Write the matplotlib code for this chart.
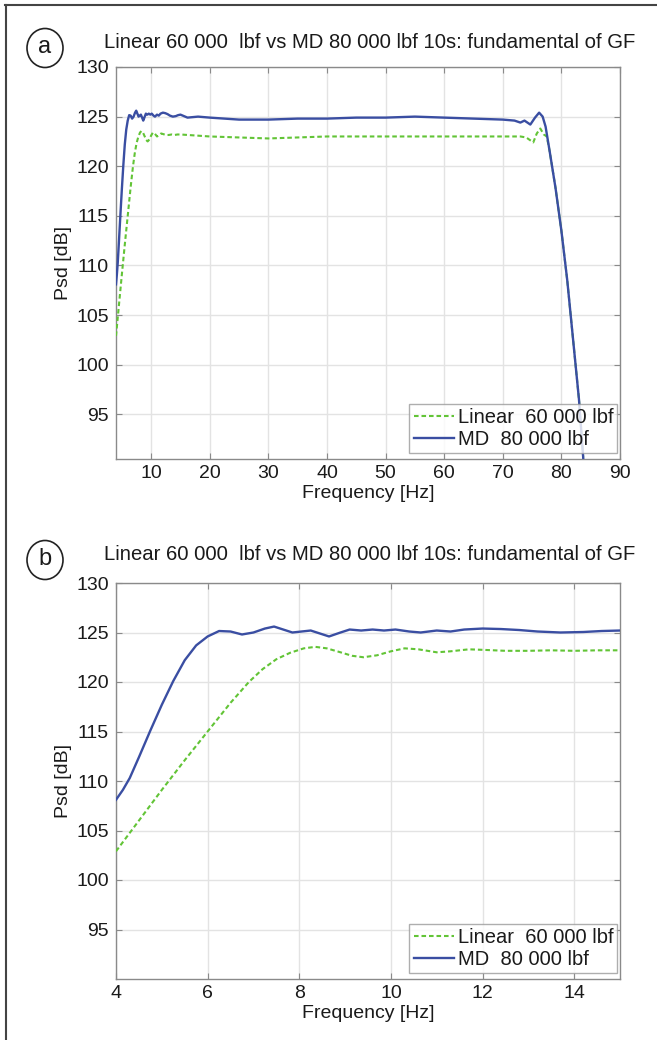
import matplotlib
matplotlib.use("Agg")
import matplotlib.pyplot as plt
from matplotlib.patches import Ellipse
from matplotlib.lines import Line2D

plt.rcParams['font.family'] = ['Liberation Sans', 'DejaVu Sans']

title = "Linear 60 000  lbf vs MD 80 000 lbf 10s: fundamental of GF"
label_lin = "Linear  60 000 lbf"
label_md = "MD  80 000 lbf"

md_f = [4.0, 4.15, 4.3, 4.5, 4.75, 5.0, 5.25, 5.5, 5.75, 6.0, 6.25, 6.5, 6.75, 7.0,
        7.25, 7.45, 7.65, 7.85, 8.05, 8.25, 8.45, 8.65, 8.9, 9.1, 9.35, 9.6, 9.85,
        10.1, 10.4, 10.65, 11.0, 11.3, 11.6, 12.0, 12.4, 12.8, 13.2, 13.7, 14.2,
        14.6, 15.0, 16.2, 18, 20, 25, 30, 35, 40, 45, 50, 55, 60, 65, 70, 72, 73,
        73.7, 74.7, 75.5, 76.2, 76.8, 77.3, 78, 79, 80, 81, 82, 83, 83.8]
md_db = [108.1, 109.1, 110.3, 112.4, 115.1, 117.7, 120.1, 122.2, 123.7, 124.6,
         125.15, 125.1, 124.8, 125.0, 125.4, 125.6, 125.3, 125.0, 125.1, 125.2,
         124.9, 124.6, 125.0, 125.3, 125.2, 125.3, 125.2, 125.3, 125.1, 125.0,
         125.2, 125.1, 125.3, 125.4, 125.35, 125.25, 125.1, 125.0, 125.05, 125.15,
         125.2, 124.9, 125.0, 124.9, 124.7, 124.7, 124.8, 124.8, 124.9, 124.9,
         125.0, 124.9, 124.8, 124.7, 124.6, 124.4, 124.6, 124.2, 124.9, 125.4,
         125.0, 124.0, 121.5, 117.8, 113.5, 108.5, 102.5, 96.5, 90.0]

lin_f = [4.0, 4.5, 5.0, 5.5, 6.0, 6.5, 6.9, 7.2, 7.5, 7.8, 8.1, 8.35, 8.6, 8.9,
         9.15, 9.4, 9.7, 10.0, 10.3, 10.6, 11.0, 11.3, 11.7, 12.0, 12.5, 13.0,
         13.5, 14.0, 14.5, 15.0, 20, 25, 30, 35, 40, 50, 60, 70, 73, 74, 75.2,
         75.8, 76.4, 77.0, 77.5, 78, 79, 80, 81, 82, 83, 83.8]
lin_db = [102.9, 106.0, 109.1, 112.1, 115.0, 117.9, 120.0, 121.3, 122.3, 122.95,
          123.4, 123.55, 123.4, 123.0, 122.65, 122.5, 122.7, 123.1, 123.4, 123.3,
          123.0, 123.1, 123.3, 123.25, 123.15, 123.15, 123.2, 123.15, 123.2, 123.2,
          123.0, 122.9, 122.8, 122.9, 123.0, 123.0, 123.0, 123.0, 123.0, 122.9,
          122.4, 123.3, 123.8, 123.2, 123.0, 121.5, 117.8, 113.5, 108.5, 102.5,
          96.5, 90.0]

yticks = [95, 100, 105, 110, 115, 120, 125, 130]
xticks_a = [10, 20, 30, 40, 50, 60, 70, 80, 90]
xticks_b = [4, 6, 8, 10, 12, 14]

BLUE = '#3a4ea2'
GREEN = '#62c436'
GRID = '#e3e3e3'
SPINE = '#8a8a8a'
TXT = '#1a1a1a'
FS = 14

W, H = 657, 1040
fig = plt.figure(figsize=(W / 100, H / 100), dpi=100)

def fx(px):
    return px / W

def fy(py):
    return 1 - py / H

panels = [
    dict(top=67, bottom=459, xlim=(4, 90), ylim=(90.5, 130), xticks=xticks_a,
         letter='a', title_y=43, circ_y=48, xlabel_y=494),
    dict(top=583, bottom=979, xlim=(4, 15), ylim=(90, 130), xticks=xticks_b,
         letter='b', title_y=554, circ_y=560, xlabel_y=1014),
]

for p in panels:
    ax = fig.add_axes([fx(116), fy(p['bottom']), fx(620) - fx(116),
                       fy(p['top']) - fy(p['bottom'])])
    ax.plot(lin_f, lin_db, color=GREEN, lw=1.5, ls=(0, (2.2, 1.4)),
            label=label_lin, zorder=3)
    ax.plot(md_f, md_db, color=BLUE, lw=1.7, label=label_md, zorder=4)
    ax.set_xlim(*p['xlim'])
    ax.set_ylim(*p['ylim'])
    ax.set_xticks(p['xticks'])
    ax.set_yticks(yticks)
    ax.grid(True, color=GRID, lw=1.0)
    ax.set_axisbelow(True)
    for s in ax.spines.values():
        s.set_color(SPINE)
        s.set_linewidth(1.0)
    ax.tick_params(direction='in', length=4, color=SPINE, labelsize=FS,
                   labelcolor=TXT, top=True, right=True)
    ax.tick_params(axis='x', pad=4)
    ax.tick_params(axis='y', pad=5)
    ax.set_ylabel('Psd [dB]', fontsize=FS, color=TXT, labelpad=3)
    fig.text(fx(368), fy(p['xlabel_y']), 'Frequency [Hz]', fontsize=FS,
             color=TXT, ha='center', va='center')
    fig.text(fx(370), fy(p['title_y']), title, fontsize=14.6, color=TXT,
             ha='center', va='center')
    leg = ax.legend(loc='lower right', bbox_to_anchor=(0.995, 0.015),
                    fontsize=14.5, frameon=True, fancybox=False,
                    edgecolor='#9a9a9a', handlelength=2.0, handletextpad=0.2,
                    borderpad=0.2, labelspacing=0.15, borderaxespad=0.0)
    leg.get_frame().set_linewidth(1.0)
    for t in leg.get_texts():
        t.set_color(TXT)
    # circled panel letter
    e = Ellipse((fx(45), fy(p['circ_y'])), width=fx(36), height=39 / H,
                transform=fig.transFigure, fill=False, ec='#222222', lw=1.2)
    fig.add_artist(e)
    fig.text(fx(45), fy(p['circ_y'] - 1), p['letter'], fontsize=17,
             color=TXT, ha='center', va='center')

# page border (top and left)
fig.add_artist(Line2D([fx(5), 1.0], [fy(5), fy(5)], transform=fig.transFigure,
                      color='#444444', lw=1.5))
fig.add_artist(Line2D([fx(6), fx(6)], [fy(5), 0.0], transform=fig.transFigure,
                      color='#444444', lw=1.5))

fig.savefig('out.png', dpi=100)
